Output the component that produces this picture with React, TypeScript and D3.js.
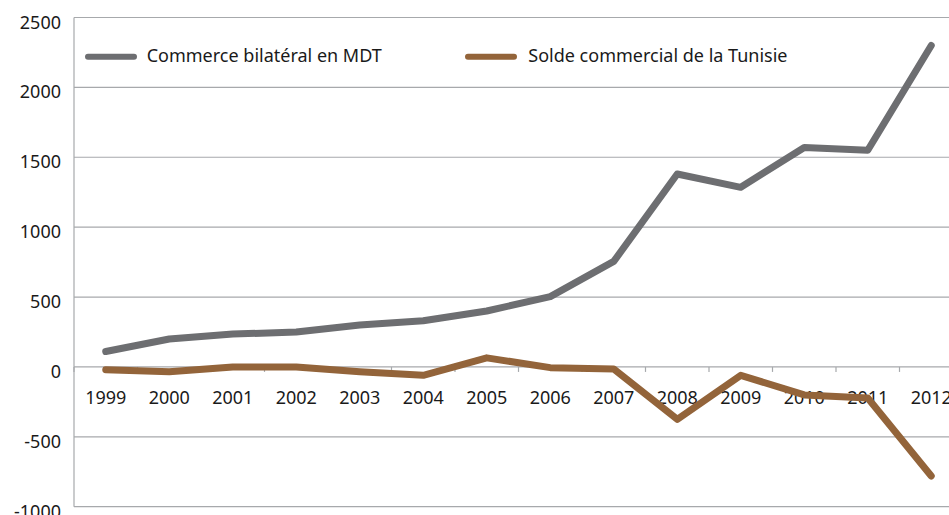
import React from "react";
import * as d3 from "d3";

const years = ["1999","2000","2001","2002","2003","2004","2005","2006","2007","2008","2009","2010","2011","2012"];
const commerce = [110, 200, 235, 250, 300, 330, 400, 503, 755, 1380, 1285, 1570, 1550, 2300];
const solde = [-20, -35, 0, 0, -35, -60, 65, -5, -15, -375, -60, -200, -222, -780];
const yTicks = [-1000, -500, 0, 500, 1000, 1500, 2000, 2500];
const seriesNames = ["Commerce bilatéral en MDT", "Solde commercial de la Tunisie"];
const colors = ["#6d6e71", "#93643a"];

const W = 949, H = 515;
const left = 74, right = 963, top = 17.5, bottom = 506.7;
const font = "'Noto Sans', sans-serif";
const fs = 18;

export default function App() {
  const x = d3.scaleBand().domain(years).range([left, right]);
  const y = d3.scaleLinear().domain([-1000, 2500]).range([bottom, top]);
  const cx = (d: string) => (x(d) as number) + x.bandwidth() / 2;
  const line = d3.line<number>().x((_, i) => cx(years[i])).y((v) => y(v));
  const tickXs = d3.range(years.length + 1).map((i) => left + i * x.bandwidth());
  return (
    <svg width={W} height={H} style={{ position: "absolute", left: 0, top: 0, background: "#fff" }}>
      {yTicks.map((t) => (
        <g key={t}>
          <line x1={left} x2={W} y1={y(t)} y2={y(t)} stroke="#a7a9ac" strokeWidth={1.2} />
          <text x={61} y={y(t) + 11} textAnchor="end" fontFamily={font} fontSize={fs} fill="#1a1a1a">{t}</text>
        </g>
      ))}
      <line x1={left} x2={left} y1={top} y2={bottom} stroke="#a7a9ac" strokeWidth={1.2} />
      {tickXs.map((tx, i) => (
        <line key={i} x1={tx} x2={tx} y1={y(0)} y2={y(0) + 5} stroke="#a7a9ac" strokeWidth={1.2} />
      ))}
      {years.map((yr) => (
        <text key={yr} x={cx(yr)} y={404} textAnchor="middle" fontFamily={font} fontSize={fs} fill="#1a1a1a">{yr}</text>
      ))}
      <path d={line(commerce) as string} fill="none" stroke={colors[0]} strokeWidth={7} strokeLinejoin="round" strokeLinecap="round" />
      <path d={line(solde) as string} fill="none" stroke={colors[1]} strokeWidth={7} strokeLinejoin="round" strokeLinecap="round" />
      <line x1={88} x2={134} y1={56.7} y2={56.7} stroke={colors[0]} strokeWidth={6} strokeLinecap="round" />
      <text x={146.7} y={62} fontFamily={font} fontSize={fs} fill="#1a1a1a">{seriesNames[0]}</text>
      <line x1={468} x2={514} y1={56.7} y2={56.7} stroke={colors[1]} strokeWidth={6} strokeLinecap="round" />
      <text x={528.3} y={62} fontFamily={font} fontSize={fs} fill="#1a1a1a">{seriesNames[1]}</text>
    </svg>
  );
}
